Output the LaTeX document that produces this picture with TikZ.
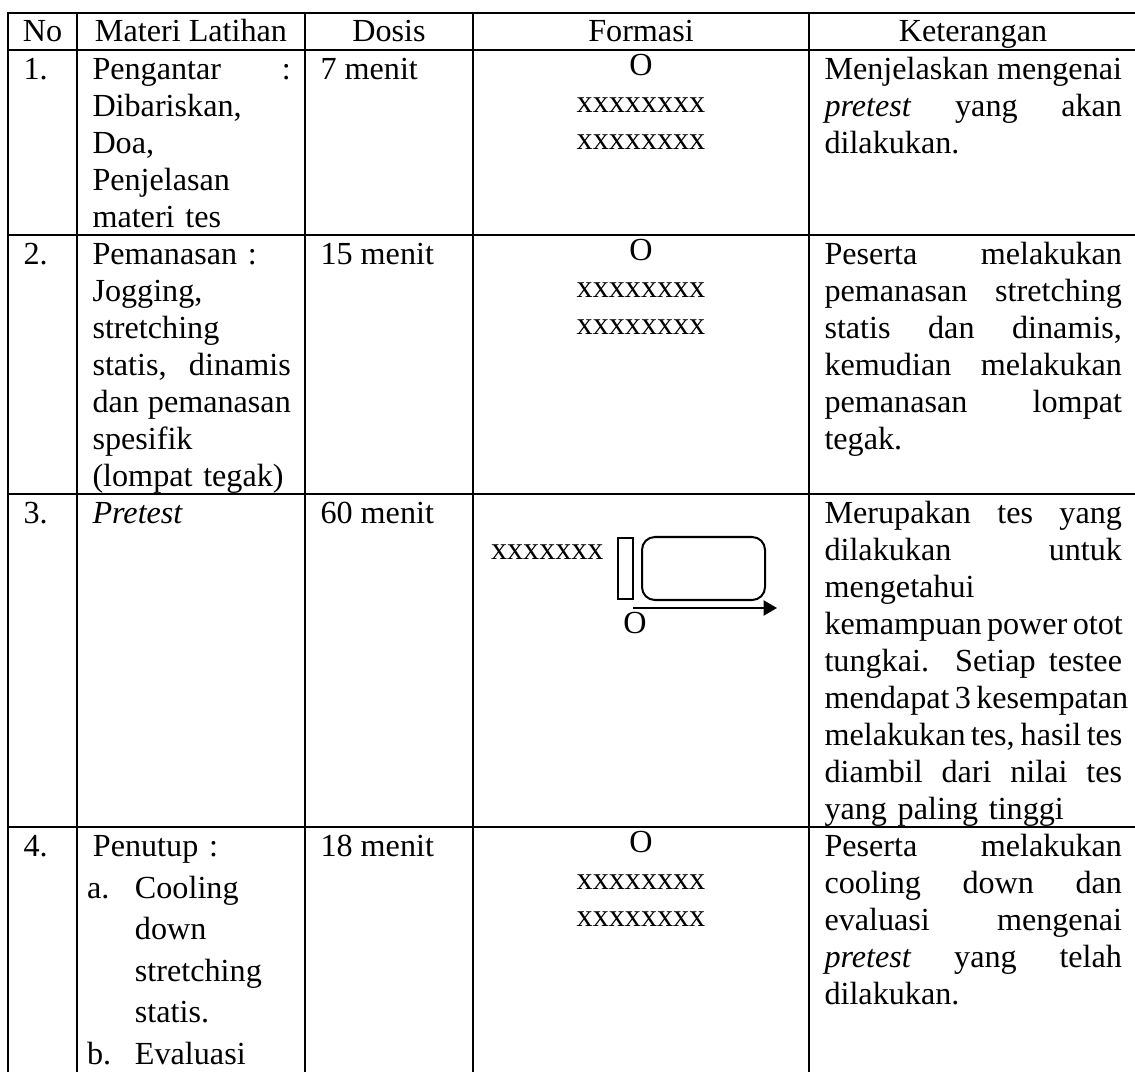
\documentclass[tikz,border=0pt]{standalone}
\usepackage{fontspec}
\setmainfont{Liberation Serif}
\usetikzlibrary{arrows.meta}
\newcommand{\cellfont}{\fontsize{12}{13.8}\selectfont}
\newcommand{\just}[1]{{\spaceskip=0pt\xspaceskip=0pt\makebox[\hsize][s]{#1}}}
\newcommand{\lsti}[2]{\makebox[17.9pt][l]{#1}#2}
\begin{document}
\begin{tikzpicture}[x=0.3731pt,y=-0.3731pt,line width=0.75pt,
    head/.style={anchor=base,inner sep=0pt,font=\cellfont},
    cell/.style={anchor=north west,inner sep=0pt,font=\cellfont,align=left,
      execute at begin node={\setlength{\parindent}{0pt}\strut}},
    materi/.style={cell,text width=74pt},
    ket/.style={cell,text width=111pt},
    formasi/.style={anchor=north,inner sep=0pt,font=\cellfont,align=center,
      execute at begin node=\strut}]
    \useasboundingbox (0,0) rectangle (1135,1072);
    \draw (1140,13) -- (8,13) -- (8,1080);
    \foreach \cx in {77,305,473,809} \draw (\cx,13) -- (\cx,1080);
    \foreach \ry in {50,235,494,827} \draw (8,\ry) -- (1140,\ry);

    \node[head] (hno) at (42.5,41.7) {No};
    \node[head] (hmateri) at (191,41.7) {Materi Latihan};
    \node[head] (hdosis) at (389,41.7) {Dosis};
    \node[head] (hformasi) at (641,41.7) {Formasi};
    \node[head] (hket) at (973,41.7) {Keterangan};

    \node[cell] (no1) at (22.5,52.8) {1.};
    \node[materi] (materi1) at (91.5,52.8) {\just{Pengantar :}\\Dibariskan,\\Doa,\\Penjelasan\\materi tes};
    \node[cell] (dosis1) at (319.5,52.8) {7 menit};
    \node[formasi] (formasi1) at (641,52.8) {O\\xxxxxxxx\\xxxxxxxx};
    \node[ket] (ket1) at (823.5,52.8) {\just{Menjelaskan mengenai}\\\just{\textit{pretest} yang akan}\\dilakukan.};

    \node[cell] (no2) at (22.5,237.8) {2.};
    \node[materi] (materi2) at (91.5,237.8) {Pemanasan :\\Jogging,\\stretching\\\just{statis, dinamis}\\\just{dan pemanasan}\\spesifik\\(lompat tegak)};
    \node[cell] (dosis2) at (319.5,237.8) {15 menit};
    \node[formasi] (formasi2) at (641,237.8) {O\\xxxxxxxx\\xxxxxxxx};
    \node[ket] (ket2) at (823.5,237.8) {\just{Peserta melakukan}\\\just{pemanasan stretching}\\\just{statis dan dinamis,}\\\just{kemudian melakukan}\\\just{pemanasan lompat}\\tegak.};

    \node[cell] (no3) at (22.5,496.8) {3.};
    \node[materi] (materi3) at (91.5,496.8) {\textit{Pretest}};
    \node[cell] (dosis3) at (319.5,496.8) {60 menit};
    \node[anchor=base west,inner sep=0pt,font=\cellfont] (barisan) at (490,559.7) {xxxxxxx};
    \draw (618,538) rectangle (633,599);
    \draw[rounded corners=4.8pt] (642,537) rectangle (765,600);
    \coordinate (lariawal) at (633,608);
    \coordinate (lariakhir) at (777,608);
    \draw[-{Triangle[length=5pt,width=5.6pt]}] (lariawal) -- (lariakhir);
    \node[anchor=base,inner sep=0pt,font=\cellfont] (pelari) at (635,633.7) {O};
    \node[ket] (ket3) at (823.5,496.8) {\just{Merupakan tes yang}\\\just{dilakukan untuk}\\mengetahui\\\just{kemampuan power otot}\\\just{tungkai. Setiap testee}\\\just{mendapat 3 kesempatan}\\\just{melakukan tes, hasil tes}\\\just{diambil dari nilai tes}\\yang paling tinggi};

    \node[cell] (no4) at (22.5,829.8) {4.};
    \node[cell,text width=78pt] (materi4) at (86,829.8) {\hspace*{2.2pt}Penutup :\\[1.7pt]\lsti{a.}{Cooling}\\[1.7pt]\hspace*{17.9pt}down\\[1.7pt]\hspace*{17.9pt}stretching\\[1.7pt]\hspace*{17.9pt}statis.\\[1.7pt]\lsti{b.}{Evaluasi}};
    \node[cell] (dosis4) at (319.5,829.8) {18 menit};
    \node[formasi] (formasi4) at (641,829.8) {O\\xxxxxxxx\\xxxxxxxx};
    \node[ket] (ket4) at (823.5,829.8) {\just{Peserta melakukan}\\\just{cooling down dan}\\\just{evaluasi mengenai}\\\just{\textit{pretest} yang telah}\\dilakukan.};
\end{tikzpicture}
\end{document}
